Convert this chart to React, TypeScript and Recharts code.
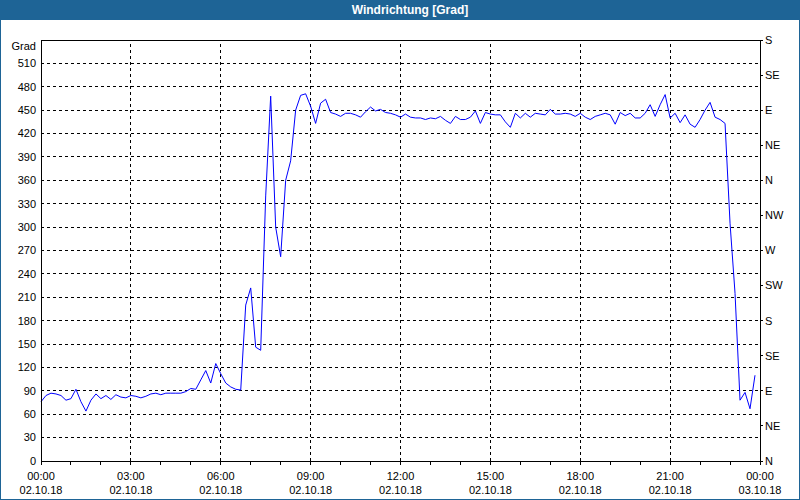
import { LineChart, Line, XAxis, YAxis, CartesianGrid, ReferenceLine } from "recharts";

// wind direction in degrees, one reading every 10 minutes from 02.10.18 00:00
const STEP_MINUTES = 10;
const windDirection = [
  76, 84, 87, 86, 84, 78, 80, 92, 76, 64, 78, 86, 80, 84, 79, 85, 82, 81,
  84, 83, 81, 83, 86, 87, 85, 87, 87, 87, 87, 89, 93, 92, 104, 116, 100, 125,
  112, 100, 95, 92, 91, 200, 222, 146, 142, 340, 468, 300, 262, 360, 385, 450,
  469, 471, 455, 433, 459, 464, 447, 445, 442, 446, 446, 444, 441, 448, 454, 449,
  451, 447, 446, 444, 441, 445, 441, 440, 440, 438, 440, 439, 442, 437, 433, 442,
  438, 438, 441, 449, 433, 447, 445, 444, 444, 435, 428, 446, 440, 446, 441, 446,
  445, 444, 451, 445, 445, 446, 445, 442, 446, 441, 438, 442, 444, 446, 444, 432,
  447, 443, 446, 440, 440, 446, 457, 442, 457, 470, 440, 446, 434, 444, 432, 428,
  438, 450, 460, 441, 438, 433, 305, 215, 78, 88, 67, 110,
];

const timeLabels = ["00:00", "03:00", "06:00", "09:00", "12:00", "15:00", "18:00", "21:00", "00:00"];
const dateLabels = [
  "02.10.18", "02.10.18", "02.10.18", "02.10.18", "02.10.18",
  "02.10.18", "02.10.18", "02.10.18", "03.10.18",
];
const compassLabels = ["N", "NE", "E", "SE", "S", "SW", "W", "NW", "N", "NE", "E", "SE", "S"];

const gradTicks = Array.from({ length: 19 }, (_, i) => i * 30);
const compassTicks = compassLabels.map((_, i) => i * 45);
const hourTicks = Array.from({ length: 25 }, (_, i) => i);
const gridHours = [3, 6, 9, 12, 15, 18, 21];

const data = windDirection.map((deg, i) => ({ t: (i * STEP_MINUTES) / 60, deg }));

const FONT = "'Liberation Sans', Arial, sans-serif";
const BLUE = "#1e6496";

const TimeTick = ({ x, y, payload }: any) => {
  if (payload.value % 3 !== 0) return <g />;
  const idx = payload.value / 3;
  return (
    <g>
      <text x={x} y={y + 13} textAnchor="middle" fontSize={11} fill="#000" fontFamily={FONT}>
        {timeLabels[idx]}
      </text>
      <text x={x} y={y + 27} textAnchor="middle" fontSize={11} fill="#000" fontFamily={FONT}>
        {dateLabels[idx]}
      </text>
    </g>
  );
};

const GradTick = ({ x, y, payload }: any) => (
  <text
    x={x}
    y={payload.value === 540 ? y + 6 : y}
    dy="0.35em"
    textAnchor="end"
    fontSize={11}
    fill="#000"
    fontFamily={FONT}
  >
    {payload.value === 540 ? "Grad" : payload.value}
  </text>
);

const CompassTick = ({ x, y, payload }: any) => (
  <text x={x} y={y} dy="0.35em" textAnchor="start" fontSize={11} fill="#000" fontFamily={FONT}>
    {compassLabels[Math.round(payload.value / 45)]}
  </text>
);

export default function App() {
  return (
    <div
      style={{
        position: "fixed",
        left: 0,
        top: 0,
        width: 800,
        height: 500,
        background: "#fff",
        fontFamily: FONT,
      }}
    >
      <style>{`
        .recharts-cartesian-grid line,
        .recharts-cartesian-axis-line,
        .recharts-cartesian-axis-tick-line,
        .recharts-reference-line line { shape-rendering: crispEdges; }
      `}</style>
      <div style={{ position: "absolute", left: 0, top: 0 }}>
        <LineChart
          width={800}
          height={500}
          data={data}
          margin={{ top: 40, right: 0, bottom: 0, left: 0 }}
        >
          <CartesianGrid
            yAxisId="left"
            vertical={false}
            stroke="#000"
            strokeDasharray="3 3"
          />
          {gridHours.map((h) => (
            <ReferenceLine
              key={h}
              x={h}
              yAxisId="left"
              stroke="#000"
              strokeDasharray="3 3"
            />
          ))}
          <ReferenceLine y={540} yAxisId="left" stroke="#000" />
          <XAxis
            dataKey="t"
            type="number"
            domain={[0, 24]}
            ticks={hourTicks}
            interval={0}
            height={39}
            tickSize={4}
            tickMargin={2}
            tick={<TimeTick />}
            axisLine={{ stroke: "#000" }}
            tickLine={{ stroke: "#000" }}
          />
          <YAxis
            yAxisId="left"
            domain={[0, 540]}
            ticks={gradTicks}
            interval={0}
            width={41}
            tickLine={false}
            tickSize={0}
            tickMargin={5}
            tick={<GradTick />}
            axisLine={{ stroke: "#000" }}
          />
          <YAxis
            yAxisId="right"
            orientation="right"
            type="number"
            domain={[0, 540]}
            allowDataOverflow
            ticks={compassTicks}
            interval={0}
            width={40}
            tickSize={3}
            tickMargin={2}
            tick={<CompassTick />}
            axisLine={{ stroke: "#000" }}
            tickLine={{ stroke: "#000" }}
          />
          {/* invisible copy so the compass axis gets a series */}
          <Line
            yAxisId="right"
            type="linear"
            dataKey="deg"
            stroke="none"
            dot={false}
            activeDot={false}
            isAnimationActive={false}
          />
          <Line
            yAxisId="left"
            type="linear"
            dataKey="deg"
            stroke="#0000ff"
            strokeWidth={1}
            dot={false}
            isAnimationActive={false}
          />
        </LineChart>
      </div>
      <div
        style={{
          position: "absolute",
          left: 0,
          top: 0,
          width: 800,
          height: 20,
          boxSizing: "border-box",
          paddingLeft: 20,
          background: BLUE,
          color: "#fff",
          fontWeight: "bold",
          fontSize: 12,
          lineHeight: "20px",
          textAlign: "center",
        }}
      >
        Windrichtung [Grad]
      </div>
      <div
        style={{
          position: "absolute",
          left: 0,
          top: 0,
          width: 800,
          height: 500,
          boxSizing: "border-box",
          border: `1px solid ${BLUE}`,
          pointerEvents: "none",
        }}
      />
    </div>
  );
}
